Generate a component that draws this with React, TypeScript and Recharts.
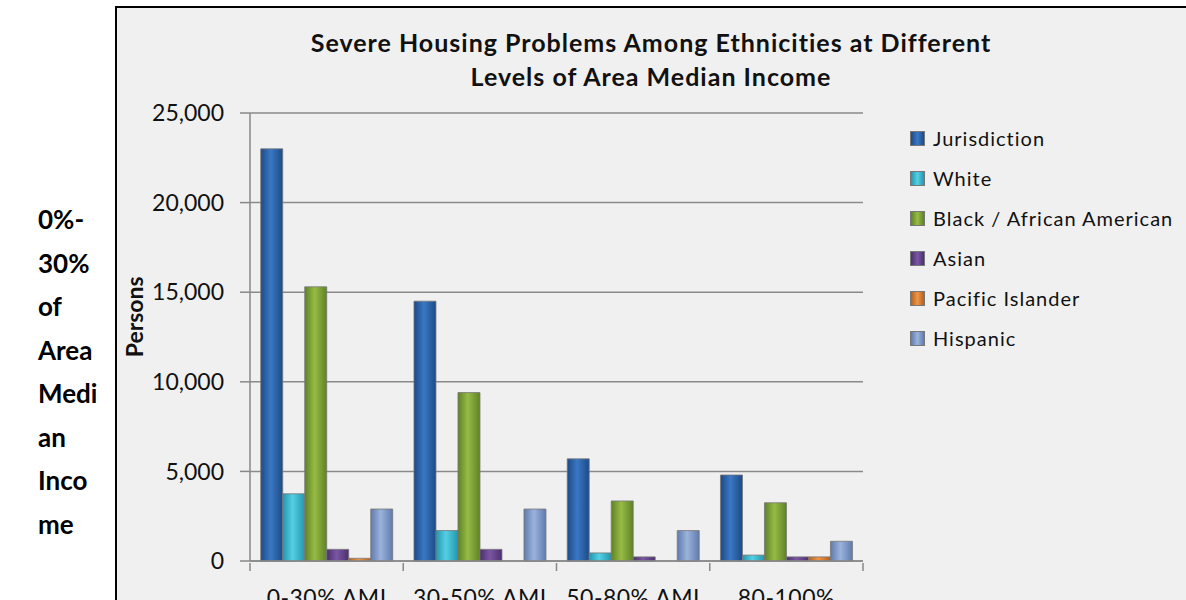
import { BarChart, Bar, XAxis, YAxis, CartesianGrid, Legend } from 'recharts'

const categories = ['0-30% AMI', '30-50% AMI', '50-80% AMI', '80-100% AMI']

const jurisdiction = [23000, 14500, 5700, 4800]
const white        = [3750, 1700, 450, 330]
const black        = [15300, 9400, 3350, 3250]
const asian        = [650, 650, 230, 230]
const pacific      = [150, 0, 0, 230]
const hispanic     = [2900, 2900, 1700, 1100]

const seriesKeys  = ['jurisdiction', 'white', 'black', 'asian', 'pacific', 'hispanic']
const seriesNames = ['Jurisdiction', 'White', 'Black / African American', 'Asian', 'Pacific Islander', 'Hispanic']
// [edge, middle] for the rounded / shaded look
const seriesColors = [
  ['#1c4a86', '#3a78c4'],
  ['#2496ae', '#55cfe4'],
  ['#5f8226', '#97bb45'],
  ['#4c306e', '#7a56a3'],
  ['#b5601f', '#ee9548'],
  ['#5f7bae', '#9bb3dc'],
]

const yTicks = [0, 5000, 10000, 15000, 20000, 25000]
const sideLabel = ['0%-', '30%', 'of', 'Area', 'Medi', 'an', 'Inco', 'me']

const values = [jurisdiction, white, black, asian, pacific, hispanic]
const data = categories.map((c, i) => {
  const row: Record<string, string | number> = { name: c }
  seriesKeys.forEach((k, s) => { row[k] = values[s][i] })
  return row
})

const FONT = 'Lato, "Open Sans", sans-serif'
const PLOT_LEFT = 250
const PLOT_RIGHT = 863
const BAND = (PLOT_RIGHT - PLOT_LEFT) / categories.length

function XTick(props: any) {
  const { x, y, payload, index } = props
  const left = x - BAND / 2
  const label = String(payload.value)
  // long labels wrap onto a second line, like the original
  const lines = label.length > 10 ? label.split(' ') : [label]
  return (
    <g>
      <line x1={left} x2={left} y1={y} y2={y + 8} stroke="#888" strokeWidth={1.5} />
      {index === categories.length - 1 && (
        <line x1={left + BAND} x2={left + BAND} y1={y} y2={y + 8} stroke="#888" strokeWidth={1.5} />
      )}
      <text x={x} y={y + 43} textAnchor="middle" fill="#111"
        style={{ fontSize: 23, fontFamily: FONT, letterSpacing: 0.5 }}>
        {lines.map((l, i) => <tspan key={i} x={x} dy={i === 0 ? 0 : 28}>{l}</tspan>)}
      </text>
    </g>
  )
}

function LegendBox({ payload }: any) {
  const items = [...(payload || [])].sort(
    (a: any, b: any) => seriesKeys.indexOf(a.dataKey) - seriesKeys.indexOf(b.dataKey))
  return (
    <div style={{ fontFamily: FONT }}>
      {items.map((p: any) => {
        const i = seriesKeys.indexOf(p.dataKey)
        return (
          <div key={p.dataKey} style={{ display: 'flex', alignItems: 'center', height: 40 }}>
            <span style={{
              width: 13, height: 13, marginRight: 8, border: '1px solid #777',
              background: `linear-gradient(90deg, ${seriesColors[i][0]}, ${seriesColors[i][1]}, ${seriesColors[i][0]})`,
            }} />
            <span style={{ fontSize: 20, color: '#111', letterSpacing: 1 }}>{p.value}</span>
          </div>
        )
      })}
    </div>
  )
}

export default function App() {
  return (
    <div style={{ position: 'absolute', left: 0, top: 0, width: 1186, height: 600, overflow: 'hidden', background: '#fff' }}>
      <div style={{ position: 'absolute', left: 38, top: 198, fontFamily: FONT, fontWeight: 700, fontSize: 26, lineHeight: '43.5px', color: '#000' }}>
        {sideLabel.map((s, i) => <div key={i}>{s}</div>)}
      </div>
      <div style={{ position: 'absolute', left: 115, top: 6, width: 1100, height: 640, border: '2px solid #000', background: '#f0f0f0' }} />
      <div style={{
        position: 'absolute', left: 117, top: 25, width: 1068, textAlign: 'center',
        fontFamily: FONT, fontWeight: 700, fontSize: 25, lineHeight: '34px', color: '#111', letterSpacing: 1,
      }}>
        Severe Housing Problems Among Ethnicities at Different<br />Levels of Area Median Income
      </div>
      <div style={{ position: 'absolute', left: 0, top: 0 }}>
        <BarChart width={1186} height={600} data={data}
          margin={{ top: 113, right: 1186 - PLOT_RIGHT, left: PLOT_LEFT - 80, bottom: 0 }}
          barCategoryGap="7%" barGap={0}>
          <defs>
            {seriesKeys.map((k, i) => (
              <linearGradient key={k} id={`g-${k}`} x1="0" y1="0" x2="1" y2="0">
                <stop offset="0%" stopColor={seriesColors[i][0]} />
                <stop offset="45%" stopColor={seriesColors[i][1]} />
                <stop offset="100%" stopColor={seriesColors[i][0]} />
              </linearGradient>
            ))}
          </defs>
          <CartesianGrid vertical={false} stroke="#8a8a8a" strokeWidth={1.5} />
          <XAxis dataKey="name" height={39} tickSize={0} tickLine={false}
            axisLine={{ stroke: '#888', strokeWidth: 1.5 }} tick={<XTick />} interval={0} />
          <YAxis width={80} domain={[0, 25000]} ticks={yTicks} tickSize={10} tickMargin={16}
            axisLine={{ stroke: '#888', strokeWidth: 1.5 }} tickLine={{ stroke: '#888', strokeWidth: 1.5 }}
            tick={{ fontSize: 23, fontFamily: FONT, fill: '#111' }}
            tickFormatter={(v: number) => v.toLocaleString('en-US')}
            label={({ viewBox }: any) => {
              const lx = viewBox.x - 27
              const ly = viewBox.y + viewBox.height * 0.455
              return (
                <text x={lx} y={ly} transform={`rotate(-90 ${lx} ${ly})`}
                  textAnchor="middle" fontSize={23} fontWeight={700} fontFamily={FONT} fill="#111">
                  Persons
                </text>
              )
            }} />
          <Legend layout="horizontal" align="center" verticalAlign="middle"
            wrapperStyle={{ left: 910, top: 118, width: 276, height: 250 }}
            content={<LegendBox />} />
          {seriesKeys.map((k, i) => (
            <Bar key={k} dataKey={k} name={seriesNames[i]} fill={`url(#g-${k})`}
              stroke="#777" strokeWidth={0.8} isAnimationActive={false} />
          ))}
        </BarChart>
      </div>
    </div>
  )
}
